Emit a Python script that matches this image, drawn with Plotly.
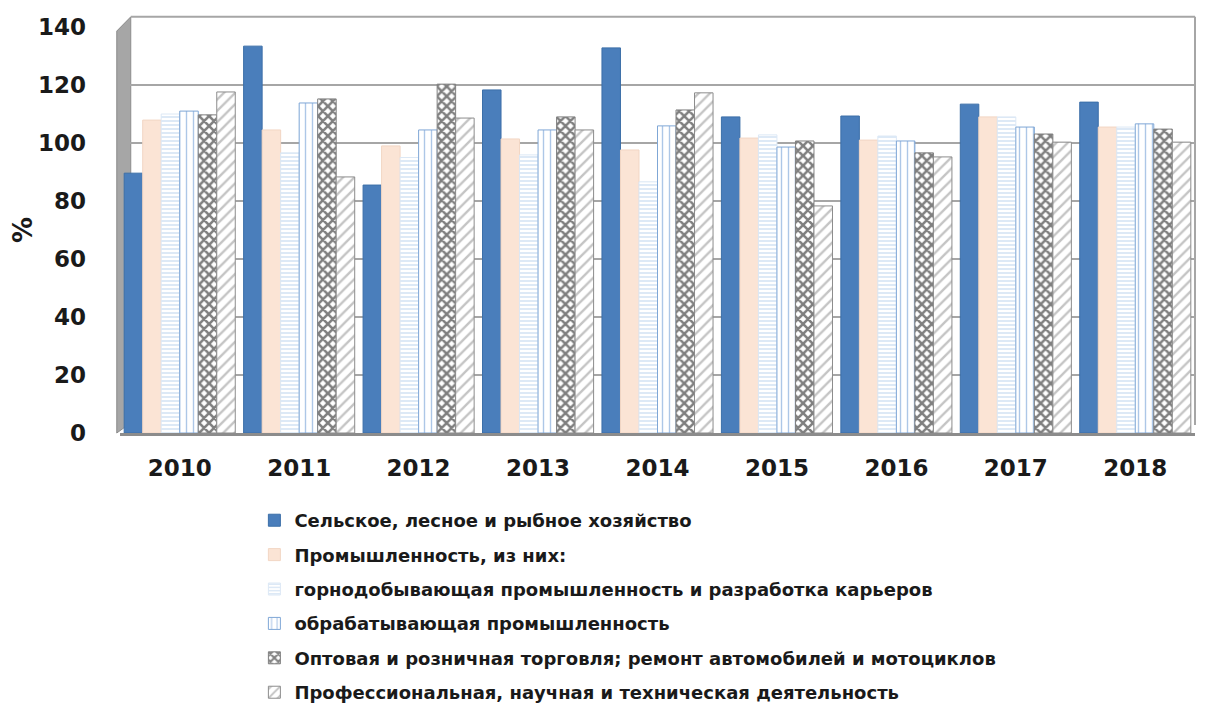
import plotly.graph_objects as go

years = ["2010", "2011", "2012", "2013", "2014", "2015", "2016", "2017", "2018"]

series_names = [
    "Сельское, лесное и рыбное хозяйство",
    "Промышленность, из них:",
    "горнодобывающая промышленность и разработка карьеров",
    "обрабатывающая промышленность",
    "Оптовая и розничная торговля; ремонт автомобилей и мотоциклов",
    "Профессиональная, научная и техническая деятельность",
]

agri = [89.6, 133.4, 85.5, 118.3, 132.8, 109.0, 109.3, 113.4, 114.1]
industry = [107.9, 104.5, 99.0, 101.4, 97.6, 101.7, 101.0, 109.0, 105.5]
mining = [110.0, 96.6, 95.0, 95.9, 86.6, 102.8, 102.4, 109.0, 105.5]
manufacturing = [111.0, 113.8, 104.5, 104.5, 105.9, 98.6, 100.7, 105.5, 106.6]
trade = [109.7, 115.2, 120.3, 109.0, 111.4, 100.7, 96.6, 103.1, 104.8]
professional = [117.6, 88.3, 108.6, 104.5, 117.3, 78.3, 95.2, 100.3, 100.3]

values = [agri, industry, mining, manufacturing, trade, professional]

styles = [
    dict(color="#4a7ebb", line=dict(color="#3c6fa8", width=1)),
    dict(color="#fbe4d5", line=dict(color="#f2d6c4", width=1)),
    dict(color="white", line=dict(color="#dce8f5", width=1),
         pattern=dict(shape="-", fgcolor="#9cc0e6", bgcolor="white", size=4, solidity=0.35)),
    dict(color="white", line=dict(color="#7fa7d6", width=1),
         pattern=dict(shape="|", fgcolor="#5b8fd0", bgcolor="white", size=7, solidity=0.2)),
    dict(color="white", line=dict(color="#808080", width=1),
         pattern=dict(shape="x", fgcolor="#000000", bgcolor="white", size=7, solidity=0.6)),
    dict(color="white", line=dict(color="#8c8c8c", width=1),
         pattern=dict(shape="/", fgcolor="#8a8a8a", bgcolor="white", size=8, solidity=0.3)),
]

fig = go.Figure()
for i, (name, vals, st) in enumerate(zip(series_names, values, styles)):
    fig.add_trace(go.Bar(
        x=years, y=vals, name=name, marker=st, legendgroup=f"g{i}",
    ))

# decorative 3D side wall on the left
fig.add_shape(type="path", xref="paper", yref="paper",
              path="M -0.003 0 L -0.003 0.99 L 0.010 1.025 L 0.010 0.025 Z",
              fillcolor="#a6a6a6", line=dict(color="#8c8c8c", width=1), layer="below")
# back wall frame (top and right)
fig.add_shape(type="line", xref="paper", yref="paper", x0=0.010, x1=1.0, y0=1.025, y1=1.025,
              line=dict(color="#a6a6a6", width=2), layer="below")
fig.add_shape(type="line", xref="paper", yref="paper", x0=1.0, x1=1.0, y0=0.02, y1=1.025,
              line=dict(color="#a6a6a6", width=2), layer="below")

fig.update_layout(
    width=1205, height=705,
    margin=dict(l=112, r=18, t=19, b=280, autoexpand=False),
    paper_bgcolor="white", plot_bgcolor="white",
    barmode="group", bargap=0.07, bargroupgap=0.0,
    font=dict(family="DejaVu Sans", color="#1a1a1a"),
    xaxis=dict(
        tickfont=dict(size=23, family="DejaVu Sans", color="#1a1a1a", weight="bold"),
        showline=True, linecolor="#8c8c8c", linewidth=3, ticks="",
        showgrid=False, ticklabelstandoff=12, automargin=False,
    ),
    yaxis=dict(
        range=[0, 140], dtick=20, showgrid=True, gridcolor="#a6a6a6", gridwidth=1.5,
        tickfont=dict(size=23, family="DejaVu Sans", color="#1a1a1a", weight="bold"),
        title=dict(text="%", font=dict(size=26, family="DejaVu Sans", color="#1a1a1a", weight="bold"),
                   standoff=8),
        zeroline=False, ticks="", ticklabelstandoff=33, automargin=False,
    ),
    legend=dict(
        orientation="v", x=0.125, xanchor="left", y=-0.17, yanchor="top",
        font=dict(size=18, family="DejaVu Sans", color="#1a1a1a", weight="bold"),
        tracegroupgap=8, itemwidth=30, bgcolor="rgba(0,0,0,0)",
    ),
    showlegend=True,
)

fig.write_html("out.html")
